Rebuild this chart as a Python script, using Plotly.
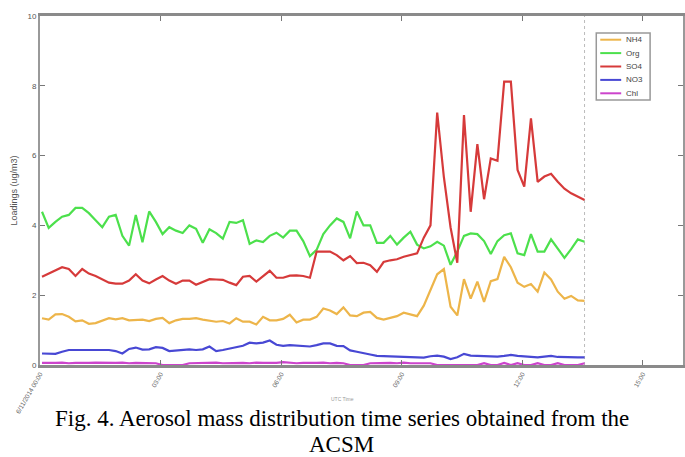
import pandas as pd
import plotly.graph_objects as go

# ---------------- data ----------------
series_names = ["NH4", "Org", "SO4", "NO3", "Chl"]
series_colors = ["#EDB54A", "#4CE04C", "#D63A3A", "#4848D4", "#CC44CC"]

nh4 = [1.34, 1.30, 1.45, 1.46, 1.38, 1.25, 1.28, 1.18, 1.20, 1.28,
       1.34, 1.31, 1.34, 1.28, 1.28, 1.30, 1.26, 1.32, 1.35, 1.20,
       1.28, 1.32, 1.32, 1.34, 1.30, 1.28, 1.24, 1.26, 1.19, 1.34,
       1.24, 1.24, 1.16, 1.38, 1.28, 1.28, 1.32, 1.44, 1.22, 1.30,
       1.30, 1.38, 1.62, 1.56, 1.46, 1.65, 1.42, 1.40, 1.50, 1.52,
       1.35, 1.30, 1.36, 1.40, 1.50, 1.44, 1.40, 1.70, 2.15, 2.60,
       2.75, 1.67, 1.42, 2.46, 1.90, 2.39, 1.81, 2.40, 2.46, 3.10,
       2.80, 2.36, 2.24, 2.32, 2.10, 2.65, 2.45, 2.10, 1.90, 1.98,
       1.85, 1.84]

org = [4.39, 3.93, 4.10, 4.25, 4.30, 4.50, 4.50, 4.35, 4.15, 3.95,
       4.25, 4.30, 3.70, 3.42, 4.30, 3.52, 4.40, 4.10, 3.75, 3.95,
       3.85, 3.78, 4.00, 3.90, 3.50, 3.89, 3.78, 3.62, 4.10, 4.07,
       4.15, 3.47, 3.57, 3.52, 3.70, 3.79, 3.65, 3.85, 3.85, 3.55,
       3.12, 3.30, 3.75, 4.00, 4.20, 4.10, 3.63, 4.40, 4.00, 4.00,
       3.50, 3.50, 3.70, 3.45, 3.65, 3.82, 3.45, 3.34, 3.40, 3.53,
       3.42, 2.87, 3.25, 3.70, 3.77, 3.75, 3.55, 3.18, 3.55, 3.72,
       3.77, 3.20, 3.15, 3.75, 3.25, 3.25, 3.60, 3.32, 3.07, 3.32,
       3.60, 3.53]

so4 = [2.53, 2.62, 2.72, 2.80, 2.75, 2.55, 2.75, 2.62, 2.55, 2.45,
       2.36, 2.33, 2.33, 2.42, 2.60, 2.42, 2.34, 2.45, 2.55, 2.42,
       2.33, 2.42, 2.42, 2.30, 2.38, 2.46, 2.45, 2.44, 2.36, 2.29,
       2.53, 2.55, 2.39, 2.55, 2.70, 2.50, 2.50, 2.56, 2.57, 2.55,
       2.50, 3.25, 3.25, 3.25, 3.15, 3.00, 3.12, 2.92, 2.93, 2.86,
       2.67, 2.95, 3.00, 3.03, 3.10, 3.16, 3.20, 3.65, 4.00, 7.23,
       5.38, 3.94, 2.93, 7.16, 4.39, 6.33, 4.75, 5.92, 5.85, 8.12,
       8.12, 5.59, 5.11, 7.07, 5.25, 5.40, 5.48, 5.25, 5.05, 4.92,
       4.82, 4.73]

no3 = [0.33, 0.32, 0.32, 0.38, 0.43, 0.43, 0.43, 0.42, 0.42, 0.42,
       0.43, 0.40, 0.33, 0.46, 0.50, 0.44, 0.45, 0.51, 0.49, 0.40,
       0.42, 0.45, 0.45, 0.43, 0.45, 0.53, 0.40, 0.43, 0.47, 0.52,
       0.55, 0.64, 0.62, 0.64, 0.70, 0.58, 0.55, 0.57, 0.55, 0.53,
       0.53, 0.57, 0.62, 0.62, 0.55, 0.54, 0.42, 0.38, 0.33, 0.30,
       0.26, 0.26, 0.25, 0.24, 0.23, 0.22, 0.20, 0.21, 0.25, 0.27,
       0.24, 0.17, 0.22, 0.32, 0.27, 0.26, 0.26, 0.25, 0.24, 0.26,
       0.29, 0.26, 0.25, 0.23, 0.22, 0.24, 0.26, 0.23, 0.22, 0.23,
       0.22, 0.22]

chl = [0.06, 0.05, 0.06, 0.07, 0.05, 0.06, 0.05, 0.06, 0.07, 0.06,
       0.05, 0.06, 0.07, 0.05, 0.06, 0.06, 0.07, 0.05, 0.00, 0.00,
       0.00, 0.00, 0.05, 0.06, 0.05, 0.06, 0.07, 0.05, 0.06, 0.05,
       0.06, 0.05, 0.07, 0.06, 0.05, 0.06, 0.08, 0.06, 0.05, 0.06,
       0.05, 0.06, 0.07, 0.05, 0.06, 0.05, 0.00, 0.00, 0.00, 0.05,
       0.06, 0.05, 0.06, 0.05, 0.07, 0.05, 0.06, 0.05, 0.05, 0.00,
       0.00, 0.00, 0.00, 0.00, 0.00, 0.00, 0.05, 0.00, 0.00, 0.06,
       0.00, 0.05, 0.00, 0.00, 0.05, 0.00, 0.00, 0.05, 0.00, 0.00,
       0.00, 0.05]

series_values = [nh4, org, so4, no3, chl]

start_time = "2014-06-11 00:03"
sample_step = "10min"
times = pd.date_range(start_time, periods=len(nh4), freq=sample_step)

x_range = ["2014-06-11 00:00", "2014-06-11 16:00"]
tick_times = ["2014-06-11 00:00", "2014-06-11 03:00", "2014-06-11 06:00",
              "2014-06-11 09:00", "2014-06-11 12:00", "2014-06-11 15:00"]
tick_labels = ["6/11/2014 00:00", "03:00", "06:00", "09:00", "12:00", "15:00"]
y_ticks = [0, 2, 4, 6, 8, 10]

y_title = "Loadings (ug/m3)"
x_title = "UTC Time"
caption_lines = ["Fig. 4. Aerosol mass distribution time series obtained from the", "ACSM"]

# ---------------- figure ----------------
W, H = 685, 457
ML, MR, MT, MB = 40, 0, 16, 92
PW, PH = W - ML - MR, H - MT - MB


def px_x(p):
    return (p - ML) / PW


def px_y(p):
    return (H - MB - p) / PH


fig = go.Figure()
for name, color, vals in zip(series_names, series_colors, series_values):
    fig.add_trace(go.Scatter(x=times, y=vals, mode="lines", name=name,
                             line=dict(color=color, width=2.2),
                             showlegend=False))

# end-of-data dotted marker
fig.add_shape(type="line", xref="x", yref="paper", x0=times[-1], x1=times[-1],
              y0=0, y1=1, line=dict(color="#BBBBBB", width=1, dash="dot"),
              layer="below")

# legend box (drawn by hand for compact spacing)
lx0, lx1, ly0, ly1 = 598, 652, 33, 100
fig.add_shape(type="rect", xref="paper", yref="paper",
              x0=px_x(lx0), x1=px_x(lx1), y0=px_y(ly1), y1=px_y(ly0),
              line=dict(color="#999999", width=1.5), fillcolor="white")
row_h = (ly1 - ly0) / len(series_names)
for k, (name, color) in enumerate(zip(series_names, series_colors)):
    yc = ly0 + row_h * (k + 0.5)
    fig.add_shape(type="line", xref="paper", yref="paper",
                  x0=px_x(602), x1=px_x(623), y0=px_y(yc), y1=px_y(yc),
                  line=dict(color=color, width=2))
    fig.add_annotation(xref="paper", yref="paper", x=px_x(626), y=px_y(yc),
                       text=name, showarrow=False, xanchor="left", yanchor="middle",
                       font=dict(family="Liberation Sans, Arial", size=8, color="#444444"))

fig.add_annotation(xref="paper", yref="paper", x=px_x(343), y=px_y(399),
                   text=x_title, showarrow=False, xanchor="center", yanchor="middle",
                   font=dict(family="Liberation Sans, Arial", size=5, color="#999999"))

for line_text, yc in zip(caption_lines, [418, 444]):
    fig.add_annotation(xref="paper", yref="paper", x=px_x(342.5), y=px_y(yc),
                       text=line_text, showarrow=False, xanchor="center",
                       yanchor="middle",
                       font=dict(family="Liberation Serif, Times New Roman, serif",
                                 size=23, color="#000000"))

fig.update_layout(
    width=W, height=H,
    margin=dict(l=ML, r=MR, t=MT, b=MB, pad=0),
    paper_bgcolor="white", plot_bgcolor="white",
    font=dict(family="Liberation Sans, Arial", color="#444444"),
)
fig.update_xaxes(
    range=x_range, tickvals=tick_times, ticktext=tick_labels, tickangle=-60,
    tickfont=dict(size=6.5, color="#666666"),
    ticks="inside", ticklen=5, tickcolor="#777777", tickwidth=1,
    showline=True, linecolor="#8A8A8A", linewidth=2.5, mirror="ticks",
    showgrid=False, zeroline=False,
)
fig.update_yaxes(
    range=[0, 10], tickvals=y_ticks,
    tickfont=dict(size=8, color="#555555"),
    ticks="inside", ticklen=5, tickcolor="#777777", tickwidth=1,
    showline=True, linecolor="#999999", linewidth=2, mirror="ticks",
    showgrid=False, zeroline=False,
    title=dict(text=y_title, font=dict(size=9, color="#555555"), standoff=8),
)

fig.write_html("out.html")
